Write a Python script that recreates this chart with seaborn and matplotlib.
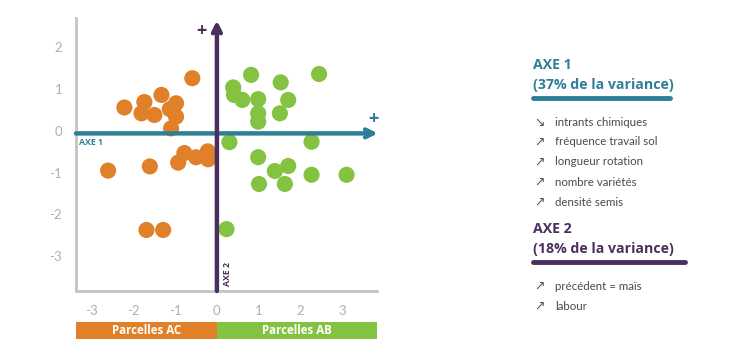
import matplotlib
matplotlib.use("Agg")
import matplotlib.pyplot as plt
import matplotlib.transforms as mtransforms
from matplotlib.patches import Rectangle
import seaborn as sns
import pandas as pd

# ---- data ----
ac_x = [-0.59, -2.22, -1.74, -1.81, -1.50, -1.33, -0.98, -1.13, -0.98, -1.10,
        -0.78, -0.93, -0.50, -0.22, -0.21, -2.61, -1.61, -1.69, -1.29]
ac_y = [1.26, 0.56, 0.69, 0.42, 0.38, 0.86, 0.66, 0.52, 0.34, 0.06,
        -0.53, -0.76, -0.63, -0.49, -0.68, -0.95, -0.85, -2.37, -2.37]
ab_x = [0.82, 2.45, 0.39, 0.41, 0.61, 1.53, 0.99, 1.71, 1.51, 0.99, 0.99,
        0.30, 2.27, 0.99, 1.39, 1.71, 2.27, 3.11, 1.01, 1.63, 0.23]
ab_y = [1.34, 1.36, 1.04, 0.86, 0.74, 1.16, 0.76, 0.74, 0.42, 0.42, 0.22,
        -0.27, -0.26, -0.63, -0.96, -0.84, -1.05, -1.05, -1.27, -1.27, -2.35]
groups = ["Parcelles AC", "Parcelles AB"]
x_ticks = [-3, -2, -1, 0, 1, 2, 3]
y_ticks = [-3, -2, -1, 0, 1, 2]
axe1_title = ["AXE 1", "(37% de la variance)"]
axe1_items = ["intrants chimiques", "fréquence travail sol", "longueur rotation",
              "nombre variétés", "densité semis"]
axe1_dirs = ["↘", "↗", "↗", "↗", "↗"]
axe2_title = ["AXE 2", "(18% de la variance)"]
axe2_items = ["précédent = maïs", "labour"]
axe2_dirs = ["↗", "↗"]

ORANGE = "#E0812A"
GREEN = "#84C341"
TEAL = "#2E7E98"
PURPLE = "#4A2F5E"
TXT = "#4a4a4a"

df = pd.DataFrame({
    "x": ac_x + ab_x,
    "y": ac_y + ab_y,
    "g": [groups[0]] * len(ac_x) + [groups[1]] * len(ab_x),
})

sns.set_style("white")
plt.rcParams["font.family"] = ["Lato", "DejaVu Sans"]
plt.rcParams["axes.unicode_minus"] = False

fig = plt.figure(figsize=(7.5, 3.6), dpi=100)
ax = fig.add_axes([76 / 750, 1 - 291 / 360, (377 - 76) / 750, (291 - 18) / 360])

sns.scatterplot(data=df, x="x", y="y", hue="g", palette=[ORANGE, GREEN],
                s=135, edgecolor="none", alpha=1, legend=False, ax=ax, zorder=2)

xmin, xmax = -3.38, 3.84
ymin, ymax = -3.83, 2.70
ax.set_xlim(xmin, xmax)
ax.set_ylim(ymin, ymax)
ax.set_xticks(x_ticks)
ax.set_yticks(y_ticks)
ax.set_xlabel("")
ax.set_ylabel("")
for s in ["top", "right"]:
    ax.spines[s].set_visible(False)
for s in ["left", "bottom"]:
    ax.spines[s].set_color("#C4C4C4")
    ax.spines[s].set_linewidth(2)
ax.tick_params(axis="both", colors="#C4C4C4", labelcolor="#AFAFAF", length=4,
               width=1.2, direction="out", labelsize=9.5, pad=6)

BOLD = ["Open Sans", "DejaVu Sans"]

# axis arrows
ax.annotate("", xy=(xmax + 0.02, -0.06), xytext=(xmin, -0.06),
            arrowprops=dict(arrowstyle="->", color=TEAL, lw=3.2, mutation_scale=14,
                            shrinkA=0, shrinkB=0), zorder=4, annotation_clip=False)
ax.annotate("", xy=(0, 2.64), xytext=(0, ymin),
            arrowprops=dict(arrowstyle="->", color=PURPLE, lw=3.2, mutation_scale=14,
                            shrinkA=0, shrinkB=0), zorder=4, annotation_clip=False)
ax.text(3.76, 0.08, "+", color=TEAL, fontsize=13, fontweight="bold",
        ha="center", va="bottom", family=BOLD)
ax.text(-0.38, 2.18, "+", color=PURPLE, fontsize=13, fontweight="bold",
        ha="center", va="bottom", family=BOLD)
ax.text(-3.3, -0.18, "AXE 1", color=TEAL, fontsize=6.3, fontweight="bold",
        ha="left", va="top", family=BOLD)
ax.text(0.25, -3.72, "AXE 2", color=PURPLE, fontsize=6.3, fontweight="bold",
        ha="center", va="bottom", rotation=90, family=BOLD)

# group bars under axis
trans = mtransforms.blended_transform_factory(ax.transData, ax.transAxes)
bar_y0, bar_h = -0.177, 0.065
for (x0, x1), col, lab in [((xmin, 0), ORANGE, groups[0]), ((0, xmax), GREEN, groups[1])]:
    ax.add_patch(Rectangle((x0, bar_y0), x1 - x0, bar_h, transform=trans,
                           facecolor=col, edgecolor="none", clip_on=False))
    ax.text((x0 + x1) / 2, bar_y0 + bar_h / 2, lab, transform=trans, color="white",
            fontsize=8.3, fontweight="bold", ha="center", va="center", family=BOLD)

# right-hand legend
def fx(px):
    return px / 750

def fy(py):
    return 1 - py / 360

def block(titles, items, dirs, color, y_title, line_x1, y_items):
    fig.text(fx(533), fy(y_title), titles[0], color=color, fontsize=10.2,
             fontweight="bold", va="center", ha="left", family=BOLD)
    fig.text(fx(533), fy(y_title + 20), titles[1], color=color, fontsize=10.2,
             fontweight="bold", va="center", ha="left", family=BOLD)
    fig.add_artist(plt.Line2D([fx(533), fx(line_x1)], [fy(y_title + 33)] * 2,
                              color=color, lw=3.5, transform=fig.transFigure))
    for i, (it, d) in enumerate(zip(items, dirs)):
        yy = y_items + 20 * i
        fig.text(fx(534), fy(yy), d, color="#555555", fontsize=9, va="center",
                 ha="left", family="DejaVu Sans")
        fig.text(fx(555), fy(yy), it, color=TXT, fontsize=8.3, va="center", ha="left")

block(axe1_title, axe1_items, axe1_dirs, TEAL, 65, 670, 122)
block(axe2_title, axe2_items, axe2_dirs, PURPLE, 229, 685, 286)

fig.savefig("out.png", dpi=100)
